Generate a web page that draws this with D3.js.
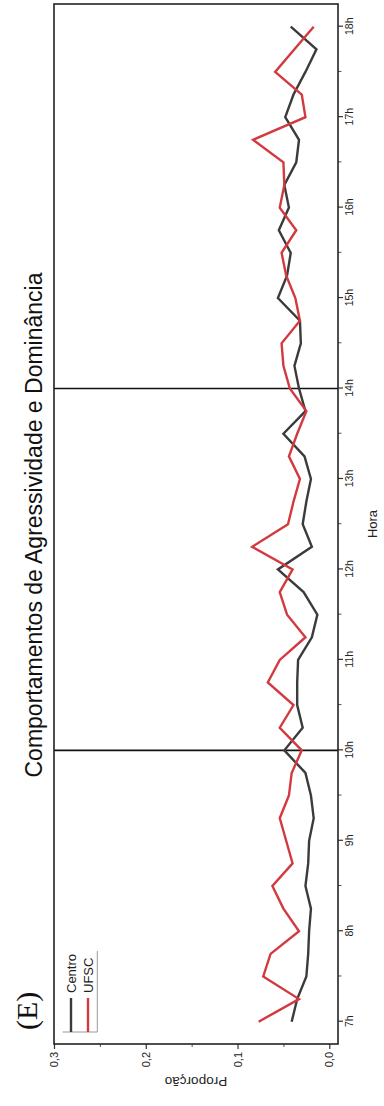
<!DOCTYPE html>
<html>
<head>
<meta charset="utf-8">
<script src="https://cdn.jsdelivr.net/npm/d3@7"></script>
<style>
  html, body { margin: 0; padding: 0; background: #fff; }
  svg { display: block; }
</style>
</head>
<body>
<svg id="chart" width="384" height="1106"></svg>
<script>
// Hour axis
const hourTicks = [7, 8, 9, 10, 11, 12, 13, 14, 15, 16, 17, 18];
const hourLabels = ["7h", "8h", "9h", "10h", "11h", "12h", "13h", "14h", "15h", "16h", "17h", "18h"];
const halfHourTicks = [7.5, 8.5, 9.5, 10.5, 11.5, 12.5, 13.5, 14.5, 15.5, 16.5, 17.5];

// Proportion axis
const propTicks = [0, 0.1, 0.2, 0.3];
const propLabels = ["0,0", "0,1", "0,2", "0,3"];
const propMinorTicks = [0.05, 0.15, 0.25];

// Observation times: every 15 minutes from 7h to 18h
const times = d3.range(7, 18.001, 0.25);

// Proportion of aggression / dominance behaviours per 15-minute slot
const centro = [
  0.041, 0.035, 0.025, 0.023, 0.022, 0.020, 0.026, 0.023, 0.022, 0.017,
  0.020, 0.026, 0.049, 0.029, 0.035, 0.035, 0.034, 0.019, 0.013, 0.028,
  0.056, 0.019, 0.029, 0.025, 0.020, 0.027, 0.050, 0.026, 0.033, 0.038,
  0.031, 0.032, 0.056, 0.046, 0.042, 0.055, 0.044, 0.049, 0.036, 0.033,
  0.048, 0.039, 0.026, 0.014, 0.042
];
const ufsc = [
  0.077, 0.033, 0.072, 0.064, 0.033, 0.050, 0.062, 0.040, 0.047, 0.054,
  0.044, 0.041, 0.030, 0.054, 0.039, 0.067, 0.054, 0.026, 0.046, 0.054,
  0.040, 0.084, 0.045, 0.039, 0.032, 0.044, 0.035, 0.025, 0.043, 0.050,
  0.052, 0.032, 0.037, 0.047, 0.052, 0.036, 0.054, 0.049, 0.050, 0.083,
  0.026, 0.030, 0.059, 0.038, 0.017
];

// Reference hours marked with vertical rules
const markHours = [10, 14];

const seriesNames = ["Centro", "UFSC"];
const seriesColors = ["#3b3b3b", "#d23a40"];

// The chart is laid out landscape (1106 x 384) and turned a quarter turn
const W = 1106;
const svg = d3.select("#chart");
const g = svg.append("g").attr("transform", `translate(0,${W}) rotate(-90)`);

const plot = { left: 62, right: 1102, top: 54, bottom: 338 };

const x = d3.scaleLinear().domain([7, 18]).range([84.3, 1079.3]);
const y = d3.scaleLinear().domain([0, 0.3]).range([329.3, 54]);

const font = "'Liberation Sans', Arial, sans-serif";

// Hour axis (bottom of the landscape layout)
const xAxis = g.append("g")
  .attr("transform", `translate(0,${plot.bottom})`)
  .call(d3.axisBottom(x)
    .tickValues(hourTicks)
    .tickFormat((d, i) => hourLabels[i])
    .tickSize(5)
    .tickPadding(3));
xAxis.select(".domain").remove();
xAxis.selectAll("line").attr("stroke", "#333").attr("stroke-width", 1.2);
xAxis.selectAll("text").attr("font-family", font).attr("font-size", 10.5).attr("fill", "#222");

const xMinor = g.append("g")
  .attr("transform", `translate(0,${plot.bottom})`)
  .call(d3.axisBottom(x).tickValues(halfHourTicks).tickFormat("").tickSize(3.5));
xMinor.select(".domain").remove();
xMinor.selectAll("line").attr("stroke", "#555").attr("stroke-width", 1);

// Proportion axis (left of the landscape layout)
const yAxis = g.append("g")
  .attr("transform", `translate(${plot.left},0)`)
  .call(d3.axisLeft(y)
    .tickValues(propTicks)
    .tickFormat((d, i) => propLabels[i])
    .tickSize(5)
    .tickPadding(3));
yAxis.select(".domain").remove();
yAxis.selectAll("line").attr("stroke", "#333").attr("stroke-width", 1.2);
yAxis.selectAll("text").attr("font-family", font).attr("font-size", 11).attr("fill", "#222");

const yMinor = g.append("g")
  .attr("transform", `translate(${plot.left},0)`)
  .call(d3.axisLeft(y).tickValues(propMinorTicks).tickFormat("").tickSize(3));
yMinor.select(".domain").remove();
yMinor.selectAll("line").attr("stroke", "#555").attr("stroke-width", 1);

// Vertical rules at the marked hours
g.selectAll("line.mark")
  .data(markHours)
  .join("line")
  .attr("class", "mark")
  .attr("x1", d => x(d)).attr("x2", d => x(d))
  .attr("y1", plot.top).attr("y2", plot.bottom)
  .attr("stroke", "#111")
  .attr("stroke-width", 1.6);

// Series lines
const line = d3.line()
  .x((d, i) => x(times[i]))
  .y(d => y(d));

[centro, ufsc].forEach((vals, k) => {
  g.append("path")
    .datum(vals)
    .attr("fill", "none")
    .attr("stroke", seriesColors[k])
    .attr("stroke-width", 2.4)
    .attr("stroke-linejoin", "miter")
    .attr("d", line);
});

// Plot frame
g.append("rect")
  .attr("x", plot.left).attr("y", plot.top)
  .attr("width", plot.right - plot.left)
  .attr("height", plot.bottom - plot.top)
  .attr("fill", "none")
  .attr("stroke", "#222")
  .attr("stroke-width", 1.6);

// Legend
const legend = g.append("g");
const legendX0 = 74, legendX1 = 108;
const legendRows = [71, 88];
legend.append("line")
  .attr("x1", legendX0).attr("x2", legendX0)
  .attr("y1", 62.7).attr("y2", 97.3)
  .attr("stroke", "#999").attr("stroke-width", 1);
legend.append("line")
  .attr("x1", legendX0).attr("x2", 155)
  .attr("y1", 97.3).attr("y2", 97.3)
  .attr("stroke", "#999").attr("stroke-width", 1);
seriesNames.forEach((name, k) => {
  legend.append("line")
    .attr("x1", legendX0).attr("x2", legendX1)
    .attr("y1", legendRows[k]).attr("y2", legendRows[k])
    .attr("stroke", seriesColors[k])
    .attr("stroke-width", 2.4);
  legend.append("text")
    .attr("x", 113)
    .attr("y", legendRows[k] + 4.8)
    .attr("font-family", font)
    .attr("font-size", 13)
    .attr("fill", "#222")
    .text(name);
});

// Title
g.append("text")
  .attr("x", 581)
  .attr("y", 42)
  .attr("text-anchor", "middle")
  .attr("font-family", font)
  .attr("font-size", 23)
  .attr("fill", "#111")
  .text("Comportamentos de Agressividade e Dominância");

// Panel letter
g.append("text")
  .attr("x", 76)
  .attr("y", 37)
  .attr("font-family", "'Liberation Serif', 'Times New Roman', serif")
  .attr("font-size", 30)
  .attr("fill", "#111")
  .text("(E)");

// Axis titles
g.append("text")
  .attr("x", 582)
  .attr("y", 377)
  .attr("text-anchor", "middle")
  .attr("font-family", font)
  .attr("font-size", 13)
  .attr("fill", "#222")
  .text("Hora");

g.append("text")
  .attr("transform", `translate(29,196) rotate(-90)`)
  .attr("text-anchor", "middle")
  .attr("font-family", font)
  .attr("font-size", 13.5)
  .attr("fill", "#222")
  .text("Proporção");
</script>
</body>
</html>
